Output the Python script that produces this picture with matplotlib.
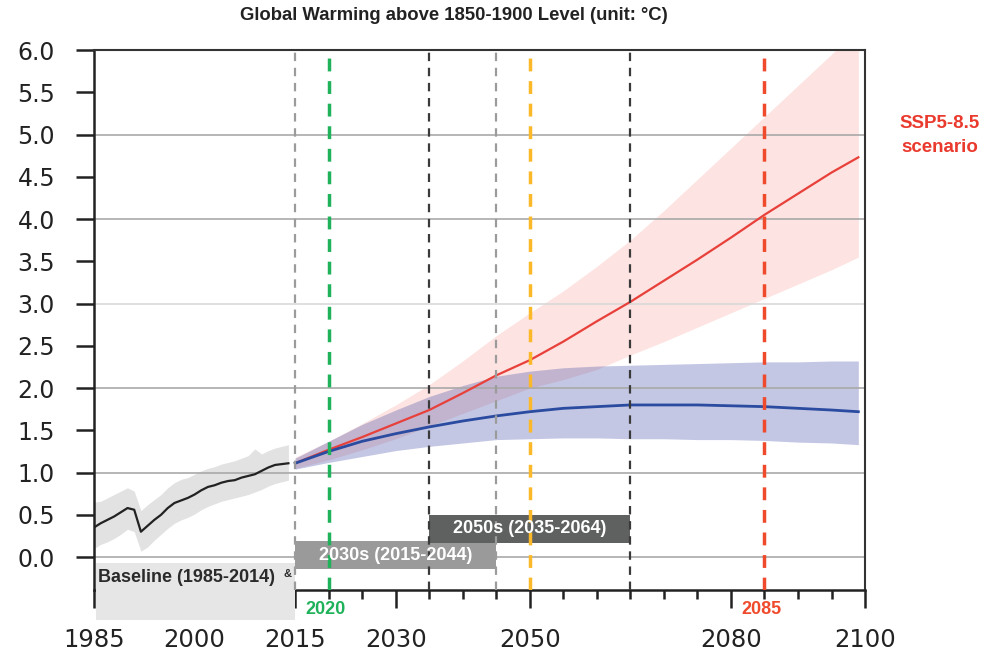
import matplotlib.pyplot as plt
from matplotlib.patches import Rectangle
import numpy as np

# historical run, 1985-2014 (deg C above 1850-1900)
hist_years = np.arange(1985, 2015)
hist_mean = [0.35, 0.40, 0.44, 0.48, 0.53, 0.58, 0.56, 0.30, 0.37, 0.44,
             0.50, 0.58, 0.64, 0.67, 0.70, 0.74, 0.79, 0.83, 0.85, 0.88,
             0.90, 0.91, 0.94, 0.96, 0.98, 1.02, 1.06, 1.09, 1.10, 1.11]
hist_low = [0.10, 0.15, 0.18, 0.22, 0.27, 0.33, 0.30, 0.07, 0.12, 0.20,
            0.27, 0.34, 0.40, 0.44, 0.47, 0.51, 0.56, 0.60, 0.63, 0.66,
            0.68, 0.70, 0.72, 0.74, 0.77, 0.80, 0.84, 0.87, 0.89, 0.91]
hist_high = [0.65, 0.66, 0.70, 0.74, 0.78, 0.82, 0.78, 0.55, 0.62, 0.68,
             0.74, 0.82, 0.88, 0.92, 0.94, 0.98, 1.02, 1.05, 1.07, 1.10,
             1.12, 1.14, 1.17, 1.20, 1.28, 1.22, 1.26, 1.29, 1.31, 1.33]

# projections
proj_years = [2015, 2020, 2025, 2030, 2035, 2040, 2045, 2050, 2055,
              2060, 2065, 2070, 2075, 2080, 2085, 2090, 2095, 2099]
ssp585_mean = [1.11, 1.27, 1.42, 1.58, 1.74, 1.94, 2.15, 2.33, 2.55,
               2.79, 3.02, 3.27, 3.52, 3.78, 4.05, 4.30, 4.55, 4.73]
ssp585_low = [1.05, 1.15, 1.27, 1.40, 1.55, 1.70, 1.85, 2.00, 2.10,
              2.22, 2.39, 2.55, 2.72, 2.89, 3.06, 3.23, 3.40, 3.55]
ssp585_high = [1.18, 1.37, 1.58, 1.80, 2.04, 2.32, 2.62, 2.89, 3.15,
               3.44, 3.75, 4.10, 4.47, 4.84, 5.21, 5.58, 5.95, 6.25]
ssp126_mean = [1.11, 1.25, 1.37, 1.46, 1.54, 1.61, 1.67, 1.72, 1.76,
               1.78, 1.80, 1.80, 1.80, 1.79, 1.78, 1.76, 1.74, 1.72]
ssp126_low = [1.04, 1.12, 1.19, 1.26, 1.31, 1.35, 1.39, 1.40, 1.41,
              1.41, 1.40, 1.40, 1.39, 1.39, 1.38, 1.36, 1.35, 1.33]
ssp126_high = [1.17, 1.37, 1.57, 1.74, 1.90, 2.03, 2.14, 2.20, 2.24,
               2.26, 2.27, 2.28, 2.29, 2.30, 2.31, 2.31, 2.32, 2.32]

# period boundaries and highlighted years
period_edges = [2015, 2035, 2045, 2065]
period_colors = ['#9b9b9b', '#3a3a3a', '#9b9b9b', '#3a3a3a']
key_years = [2020, 2050, 2085]
key_colors = ['#1fb25a', '#fbb829', '#f04a2c']
key_labels = ['2020', '', '2085']

# label, start, end, box bottom, box top, text baseline, colour
periods = [('2030s (2015-2044)', 2015, 2045, -0.14, 0.19, -0.03, '#9a9a9a'),
           ('2050s (2035-2064)', 2035, 2065, 0.17, 0.50, 0.28, '#5f6161')]

major_ticks = [1985, 2000, 2015, 2030, 2050, 2080, 2100]
minor_ticks = [y for y in range(1985, 2101, 5) if y not in major_ticks]
y_ticks = np.arange(0, 6.01, 0.5)

fig = plt.figure(figsize=(10.04, 6.58), dpi=100)
ax = fig.add_axes([0.0936, 0.1033, 0.768, 0.8207])
bold = ['Liberation Sans', 'DejaVu Sans']

ax.fill_between(hist_years, hist_low, hist_high, color='#e2e2e2', lw=0, zorder=1)
ax.fill_between(proj_years, ssp585_low, ssp585_high, color='#fde3e1', lw=0, zorder=1)
ax.fill_between(proj_years, ssp126_low, ssp126_high, color='#3b47a8', alpha=0.3,
                lw=0, zorder=1.1)

for v in range(0, 6):
    ax.axhline(v, color='#d9d9d9' if v == 3 else '#a9a9a9', lw=1.2, zorder=2)

ax.plot(hist_years, hist_mean, color='#222222', lw=1.6, zorder=3)
ax.plot(proj_years, ssp585_mean, color='#e8403a', lw=1.6, zorder=3)
ax.plot(proj_years, ssp126_mean, color='#2a4b9f', lw=2.0, zorder=3.1)

# period boxes under the axis
ax.add_patch(Rectangle((1985.3, -0.75), 29.7, 0.68, fc='#e6e6e6', ec='none',
                       clip_on=False, zorder=4))
ax.text(1985.6, -0.296, 'Baseline (1985-2014)', ha='left', va='baseline',
        fontsize=13, fontweight='bold', color='#2a2a2a', family=bold, zorder=6)
ax.text(2013.9, -0.195, '&', ha='center', va='center', fontsize=8,
        fontweight='bold', color='#2a2a2a', family=bold, zorder=6)
for label, x0, x1, y0, y1, yt, c in periods:
    ax.add_patch(Rectangle((x0, y0), x1 - x0, y1 - y0, fc=c, ec='none',
                           clip_on=False, zorder=4))
    ax.text((x0 + x1) / 2, yt, label, ha='center', va='baseline',
            fontsize=13, fontweight='bold', color='white', family=bold, zorder=6)

for x, c in zip(period_edges, period_colors):
    ax.axvline(x, color=c, lw=1.6, dashes=(3.8, 3.0), zorder=5)
for x, c, lab in zip(key_years, key_colors, key_labels):
    ax.axvline(x, color=c, lw=2.5, dashes=(3.7, 2.8), zorder=5)
    if lab:
        ax.text(x - 0.5, -0.675, lab, ha='center', va='baseline', fontsize=13,
                fontweight='bold', color=c, family=bold)

ax.set_xlim(1985, 2100)
ax.set_ylim(-0.39, 6.0)
ax.set_xticks(major_ticks)
ax.set_xticks(minor_ticks, minor=True)
ax.set_yticks(y_ticks)
ax.set_yticklabels([f'{v:.1f}' for v in y_ticks])
ax.tick_params(axis='x', which='major', length=13, width=1.8, pad=14,
               labelsize=17.5, colors='#222222')
ax.tick_params(axis='x', which='minor', length=6.5, width=1.8, colors='#222222')
ax.tick_params(axis='y', length=13, width=1.8, pad=15, labelsize=17,
               colors='#222222')
for side in ['left', 'bottom']:
    ax.spines[side].set_linewidth(1.8)
    ax.spines[side].set_color('#222222')
for side in ['top', 'right']:
    ax.spines[side].set_linewidth(1.5)
    ax.spines[side].set_color('#333333')

fig.text(0.452, 0.976, 'Global Warming above 1850-1900 Level (unit: \u00b0C)',
         ha='center', va='center', fontsize=13.3, fontweight='bold',
         color='#222222', family=['Liberation Sans Narrow', 'Liberation Sans'])
fig.text(0.936, 0.8055, 'SSP5-8.5', ha='center', va='baseline',
         fontsize=13.5, fontweight='bold', color='#ea3a2e', family=bold)
fig.text(0.936, 0.7695, 'scenario', ha='center', va='baseline',
         fontsize=13.5, fontweight='bold', color='#ea3a2e', family=bold)

fig.savefig('out.png', dpi=100)
